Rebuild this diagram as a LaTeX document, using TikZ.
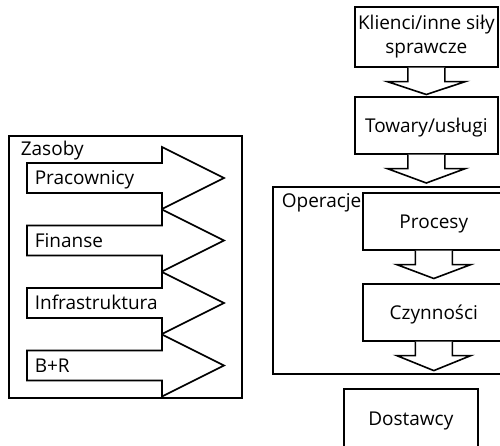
\documentclass[tikz,border=0pt]{standalone}
\usepackage{fontspec}
\setmainfont{Open Sans}
\usetikzlibrary{calc}

% block arrow pointing right, with its label in the shaft
\newcommand\resarrow[3]{%
  \draw[blk] (27,#2-15) -- (162,#2-15) -- (162,#2-31) -- (224,#2)
    -- (162,#2+31) -- (162,#2+15) -- (27,#2+15) -- cycle;
  \node[captext, anchor=west] (#1) at (34,#2) {#3};}

% block arrow pointing down from one node to a target point
% #1 source node, #2 target point, #3 head half width
\newcommand\downblock[3]{%
  \draw[blk] let \p1=(#1.south), \p2=(#2) in
    (\x1-18.5pt,\y1) -- (\x1-18.5pt,\y1-14pt) -- (\x1-#3pt,\y1-14pt)
    -- (\x1,\y2) -- (\x1+#3pt,\y1-14pt) -- (\x1+18.5pt,\y1-14pt)
    -- (\x1+18.5pt,\y1);}

\begin{document}
\begin{tikzpicture}[x=1pt,y=-1pt,line width=1.6pt,
  every node/.style={font=\fontsize{19}{23.5}\selectfont, inner sep=0pt},
  box/.style={draw, fill=white, anchor=north west},
  captext/.style={text height=13.5pt, text depth=0pt},
  blk/.style={draw, fill=white, line join=miter}]
\useasboundingbox (0,0) rectangle (500,445);
\clip (0,0) rectangle (500,445);

% resources
\node[box, minimum width=233, minimum height=262] (res) at (8,135) {};
\node[captext, anchor=west] (resname) at (20,149) {Zasoby};
\resarrow{staff}{178}{Pracownicy}
\resarrow{fin}{240.5}{Finanse}
\resarrow{infra}{303}{Infrastruktura}
\resarrow{rnd}{365.5}{B+R}

% value chain
\node[box, minimum width=143, minimum height=60, align=center] (cli) at (354,6)
  {Klienci/inne siły\\sprawcze};
\node[box, captext, minimum width=143, minimum height=57] (tow) at (354,96) {Towary/usługi};
\node[box, minimum width=240, minimum height=187] (ops) at (272,186) {};
\node[captext, anchor=west] (opsname) at (281,201) {Operacje};
\node[box, captext, minimum width=142, minimum height=57] (proc) at (362,192) {Procesy};
\node[box, captext, minimum width=142, minimum height=57] (czy) at (362,283) {Czynności};
\node[box, captext, minimum width=134, minimum height=60] (dos) at (343,388) {Dostawcy};

\coordinate (t1) at ($(tow.north)+(0,-1.5)$);
\coordinate (t2) at ($(ops.north -| tow.north)+(0,-3)$);
\coordinate (t3) at ($(czy.north)+(0,-4.5)$);
\coordinate (t4) at ($(czy.south |- ops.south)+(0,-4)$);
\downblock{cli}{t1}{39}
\downblock{tow}{t2}{39}
\downblock{proc}{t3}{37}
\downblock{czy}{t4}{37}
\end{tikzpicture}
\end{document}
